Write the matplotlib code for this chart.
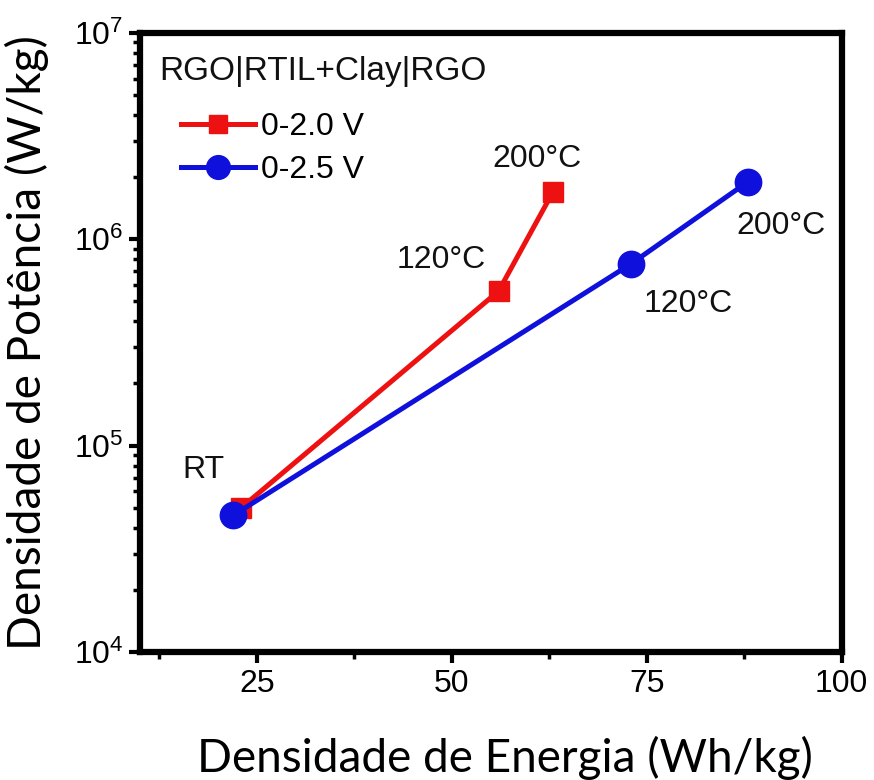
import matplotlib
matplotlib.use("Agg")
import matplotlib.pyplot as plt
from matplotlib.ticker import FixedLocator, LogLocator, NullFormatter

# energy density (Wh/kg) and power density (W/kg) for each voltage window
temps = ["RT", "120°C", "200°C"]
energy_20 = [23.0, 56.0, 63.0]
power_20 = [5.0e4, 5.6e5, 1.7e6]
energy_25 = [22.0, 73.0, 88.0]
power_25 = [4.6e4, 7.6e5, 1.9e6]

plt.rcParams['font.family'] = ['Liberation Sans', 'DejaVu Sans']
plt.rcParams['mathtext.default'] = 'regular'

fig = plt.figure(figsize=(8.74, 7.8), dpi=100)
ax = fig.add_axes([0.160, 0.164, 0.803, 0.794])

ax.plot(energy_20, power_20, '-s', color='#ee1111', lw=3.6, markersize=15,
        label='0-2.0 V', zorder=3)
ax.plot(energy_25, power_25, '-o', color='#1010dd', lw=3.6, markersize=19,
        label='0-2.5 V', zorder=4)

ax.set_yscale('log')
ax.set_xlim(10, 100)
ax.set_ylim(1e4, 1e7)

ax.set_xticks([25, 50, 75, 100])
ax.xaxis.set_minor_locator(FixedLocator([12.5, 37.5, 62.5, 87.5]))
ax.yaxis.set_major_locator(LogLocator(base=10))
ax.yaxis.set_minor_locator(LogLocator(base=10, subs=range(2, 10)))
ax.yaxis.set_minor_formatter(NullFormatter())

ax.tick_params(which='major', direction='out', length=8, width=3, labelsize=23, pad=4)
ax.tick_params(which='minor', direction='out', length=5, width=2.5)
for s in ax.spines.values():
    s.set_linewidth(4.5)

# point labels
lbl = dict(fontsize=23, color='#111111', ha='center', va='center')
ax.text(18.1, 7.6e4, temps[0], **lbl)
ax.text(48.6, 7.9e5, temps[1], **lbl)
ax.text(60.9, 2.45e6, temps[2], **lbl)
ax.text(80.3, 4.85e5, temps[1], **lbl)
ax.text(92.2, 1.16e6, temps[2], **lbl)

ax.text(0.028, 0.937, 'RGO|RTIL+Clay|RGO', transform=ax.transAxes,
        fontsize=24, ha='left', va='center', color='#111111')
ax.legend(loc='upper left', bbox_to_anchor=(0.018, 0.918), frameon=False,
          fontsize=23, handlelength=2.3, handletextpad=0.2,
          labelspacing=0.4, markerscale=0.9)

ax.set_xlabel('Densidade de Energia (Wh/kg)', fontsize=33, family='Lato',
              labelpad=22)
ax.xaxis.set_label_coords(0.52, -0.135)
ax.set_ylabel('Densidade de Potência (W/kg)', fontsize=33, family='Lato',
              labelpad=18)

fig.savefig('out.png', dpi=100)
